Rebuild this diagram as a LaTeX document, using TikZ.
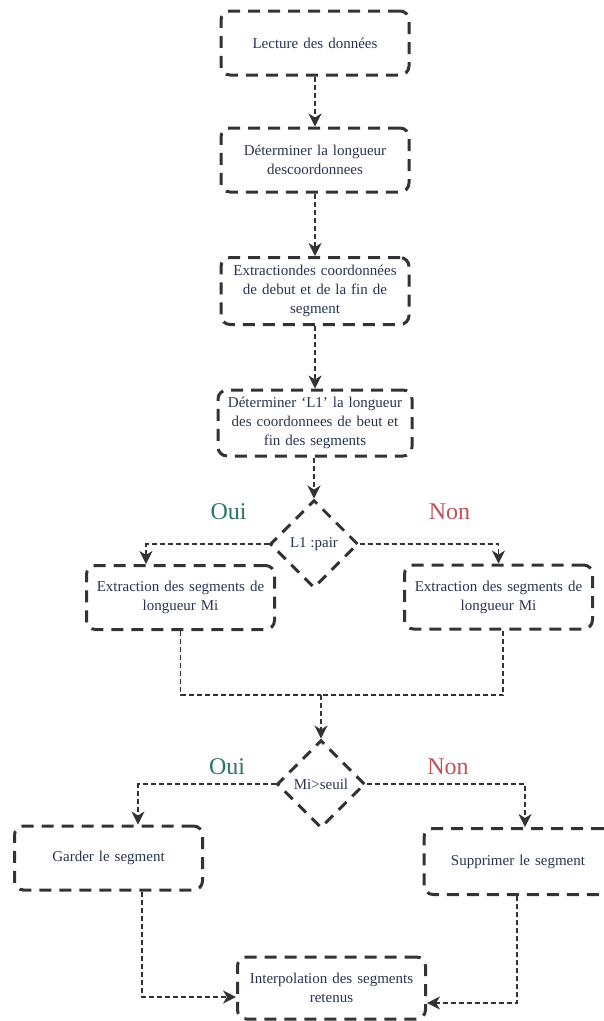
\documentclass[tikz,border=0pt]{standalone}
\usepackage{fontspec}
\setmainfont{Liberation Serif}
\usepackage{tikz}
\usetikzlibrary{shapes.geometric,arrows.meta}
\definecolor{trait}{HTML}{333333}
\definecolor{texte}{HTML}{28344D}
\definecolor{oui}{HTML}{2E7468}
\definecolor{non}{HTML}{C0505A}

\begin{document}
\begin{tikzpicture}[x=1pt,y=-1pt,
  boite/.style={draw=trait,line width=3pt,dash pattern=on 12pt off 8pt,rounded corners=9pt,minimum width=188pt,minimum height=64pt,text width=184pt,align=center,text=texte,font=\fontsize{15}{19}\selectfont,inner sep=2pt},
  test/.style={diamond,draw=trait,line width=3pt,dash pattern=on 11pt off 8pt,minimum width=88pt,minimum height=88pt,inner sep=0pt,text=texte,font=\fontsize{15}{19}\selectfont},
  lien/.style={draw=trait,line width=1.5pt,dash pattern=on 5pt off 3pt},
  fleche/.style={lien,-{Stealth[length=13pt,width=13pt,inset=4pt]}},
  rep/.style={font=\fontsize{24}{28}\selectfont}]
\useasboundingbox (0,0) rectangle (603,1021);
\node[boite] (lect) at (315,43) {Lecture des données};
\node[boite] (long) at (315,160) {Déterminer la longueur\\descoordonnees};
\node[boite,minimum height=67pt] (extr) at (315,291) {Extractiondes coordonnées\\de debut et de la fin de\\segment};
\node[boite,minimum height=66pt,minimum width=194pt] (lg) at (315,423) {Déterminer ‘L1’ la longueur\\des coordonnees de beut et\\fin des segments};
\node[test] (pair) at (314,544) {L1 :pair};
\node[boite,minimum width=185pt] (segg) at (180.5,597.5) {Extraction des segments de\\longueur Mi};
\node[boite] (segd) at (498.5,597) {Extraction des segments de\\longueur Mi};
\node[test] (seuil) at (321,784) {Mi>seuil};
\node[boite] (gard) at (108.5,858) {Garder le segment};
\node[boite,minimum height=66pt] (supp) at (518,861.5) {Supprimer le segment};
\node[boite,minimum height=62pt] (interp) at (331.5,988) {Interpolation des segments\\retenus};
\node[rep,text=oui] (oui1) at (228.5,512) {Oui};
\node[rep,text=non] (non1) at (449.5,512) {Non};
\node[rep,text=oui] (oui2) at (227,767) {Oui};
\node[rep,text=non] (non2) at (448,767) {Non};
\coordinate (jonc) at (321,695);
\draw[fleche] (lect) -- (long);
\draw[fleche] (long) -- (extr);
\draw[fleche] (extr) -- (lg);
\draw[fleche] (lg.south -| pair.north) -- (pair.north);
\draw[fleche] (pair.west) -| ([xshift=-34.5pt]segg.north);
\draw[fleche] (pair.east) -| (segd.north);
\draw[lien] (segg.south) |- (jonc);
\draw[lien] ([xshift=4.5pt]segd.south) |- (jonc);
\draw[fleche] (jonc) -- (seuil.north);
\draw[fleche] (seuil.west) -| ([xshift=29.5pt]gard.north);
\draw[fleche] (seuil.east) -| ([xshift=7pt]supp.north);
\draw[fleche] ([xshift=33.5pt]gard.south) |- ([yshift=-9pt]interp.west);
\draw[fleche] ([xshift=-1pt]supp.south) |- ([yshift=-15pt]interp.east);
\end{tikzpicture}
\end{document}
